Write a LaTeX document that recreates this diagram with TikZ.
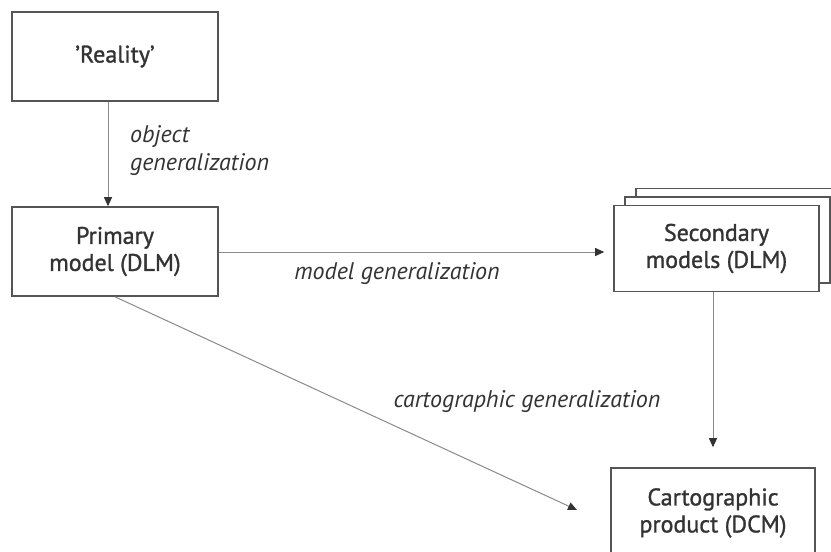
\documentclass[tikz,border=0pt]{standalone}
\usepackage{fontspec}
\setmainfont{PT Sans}
\usetikzlibrary{arrows.meta,shadows}
\definecolor{boxline}{HTML}{555555}
\definecolor{arrowline}{HTML}{8A8A8A}
\definecolor{ink}{HTML}{333333}
\tikzset{
  box/.style={draw=boxline, line width=1.6pt, fill=white, text=ink,
    align=center, inner sep=0pt,
    font=\fontsize{24}{27}\selectfont\addfontfeature{FakeBold=1.2}},
  flow/.style={draw=arrowline, line width=1pt,
    -{Triangle[length=9pt,width=8pt,color=ink,fill=ink]}},
  note/.style={text=ink, inner sep=0pt, font=\fontsize{24}{28}\selectfont\itshape}
}
\begin{document}
\begin{tikzpicture}[x=1pt,y=-1pt]
\useasboundingbox (0,0) rectangle (831,552);

% the four stages of generalization
\node[box, minimum width=206pt, minimum height=89pt] (real) at (115,56.5) {\char39 Reality\char39};
\node[box, minimum width=206pt, minimum height=89pt] (prim) at (115,251.5) {Primary\\model (DLM)};
\node[box, minimum width=205pt, minimum height=86pt,
      double copy shadow={shadow xshift=11pt, shadow yshift=8.5pt,
                          draw=boxline, fill=white, line width=1.2pt}]
      (sec) at (716.5,248.5) {Secondary\\models (DLM)};
\node[box, minimum width=204pt, minimum height=90pt] (cart) at (713,513) {Cartographic\\product (DCM)};

\coordinate (tip) at (577,510);

% connectors
\draw[flow] ([xshift=-7pt]real.south) -- ([xshift=-7pt]prim.north);
\draw[flow, shorten >=9pt] (prim.east |- 0,252) -- (sec.west |- 0,252);
\draw[flow, shorten >=20pt] (cart.north |- sec.south) -- (cart.north);
\draw[flow] (prim.south) -- (tip);

% labels
\node[note, anchor=west, align=left] (objlbl) at (130,151) {object\\generalization};
\node[note] (modlbl) at (397,274) {model generalization};
\node[note] (cartlbl) at (527,402) {cartographic generalization};
\end{tikzpicture}
\end{document}
